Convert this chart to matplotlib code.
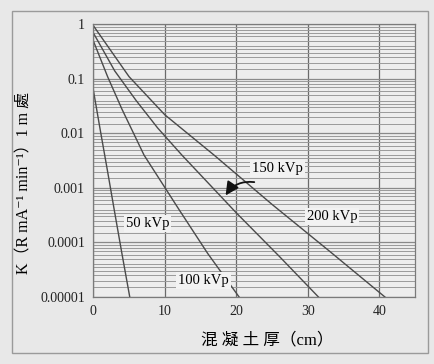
import matplotlib
matplotlib.use("Agg")
import matplotlib.pyplot as plt
from matplotlib.ticker import LogLocator, FixedLocator, FixedFormatter, NullFormatter
from matplotlib.patches import Rectangle

# values (thickness in cm, K in R mA^-1 min^-1 at 1 m)
thick_50 = [0, 1, 2, 3, 4, 5.1]
k_50 = [0.063, 0.011, 0.002, 3.5e-4, 6.3e-5, 1e-5]

thick_100 = [0, 2, 4, 7.1, 12, 16, 20.4]
k_100 = [0.5, 0.11, 0.028, 0.004, 4e-4, 6.3e-5, 1e-5]

thick_150 = [0, 3, 6, 9, 12.4, 20, 26, 31.5]
k_150 = [0.7, 0.14, 0.04, 0.0126, 0.004, 3.5e-4, 5.6e-5, 1e-5]

thick_200 = [0, 5, 10, 16.9, 25, 33, 40.8]
k_200 = [0.95, 0.11, 0.022, 0.004, 5e-4, 7e-5, 1e-5]

x_ticks = [0, 10, 20, 30, 40]
y_ticks = [1e-5, 1e-4, 1e-3, 1e-2, 1e-1, 1]
y_tick_labels = ["0.00001", "0.0001", "0.001", "0.01", "0.1", "1"]

plt.rcParams["font.family"] = ["Liberation Serif", "DejaVu Serif", "Noto Sans CJK TC"]

paper = "#e8e8e8"
ink = "#4a4a4a"

fig = plt.figure(figsize=(4.35, 3.64), dpi=100, facecolor=paper)
fig.patches.append(Rectangle((0.028, 0.03), 0.955, 0.94, transform=fig.transFigure,
                             fill=False, edgecolor="#9a9a9a", lw=1.0))
ax = fig.add_axes([0.2145, 0.184, 0.7395, 0.749])
ax.set_facecolor("#ededed")

ax.set_yscale("log")
ax.set_xlim(0, 45)
ax.set_ylim(1e-5, 1)

ax.xaxis.set_major_locator(FixedLocator(x_ticks))
ax.yaxis.set_major_locator(FixedLocator(y_ticks))
ax.yaxis.set_major_formatter(FixedFormatter(y_tick_labels))
ax.yaxis.set_minor_locator(LogLocator(base=10, subs=[1.5, 2, 2.5, 3, 3.5, 4, 5, 6, 7, 8, 9], numticks=20))
ax.yaxis.set_minor_formatter(NullFormatter())

ax.grid(True, which="major", axis="x", color="#6a6a6a", lw=0.9)
ax.grid(True, which="major", axis="y", color="#8a8a8a", lw=0.9)
ax.grid(True, which="minor", axis="y", color="#9a9a9a", lw=0.7)
ax.tick_params(which="both", length=0, labelsize=10, colors="#222222", pad=6)
for s in ax.spines.values():
    s.set_color("#7a7a7a")
    s.set_linewidth(0.9)

for xs, ks in [(thick_50, k_50), (thick_100, k_100), (thick_150, k_150), (thick_200, k_200)]:
    ax.plot(xs, ks, color=ink, lw=1.0)

box = dict(facecolor="#f2f2f2", edgecolor="none", pad=1.5)
ax.text(7.6, 10 ** -3.66, "50 kVp", fontsize=10.5, ha="center", va="center", bbox=box)
ax.text(15.4, 10 ** -4.7, "100 kVp", fontsize=10.5, ha="center", va="center", bbox=box)
ax.text(25.8, 10 ** -2.65, "150 kVp", fontsize=10.5, ha="center", va="center", bbox=box)
ax.text(33.4, 10 ** -3.53, "200 kVp", fontsize=10.5, ha="center", va="center", bbox=box)
ax.annotate("", xy=(18.3, 10 ** -3.18), xytext=(22.9, 10 ** -2.9),
            arrowprops=dict(arrowstyle="-|>,head_length=0.8,head_width=0.4", color="#111111",
                            lw=1.3, connectionstyle="arc3,rad=0.35"))

ax.set_xlabel("混 凝 土 厚（cm）", fontsize=12)
ax.xaxis.set_label_coords(0.54, -0.13)
ax.set_ylabel("K（R mA⁻¹ min⁻¹）1 m 處", fontsize=11.5)
ax.yaxis.set_label_coords(-0.19, 0.42)

fig.savefig("out.png", dpi=100, facecolor=paper)
